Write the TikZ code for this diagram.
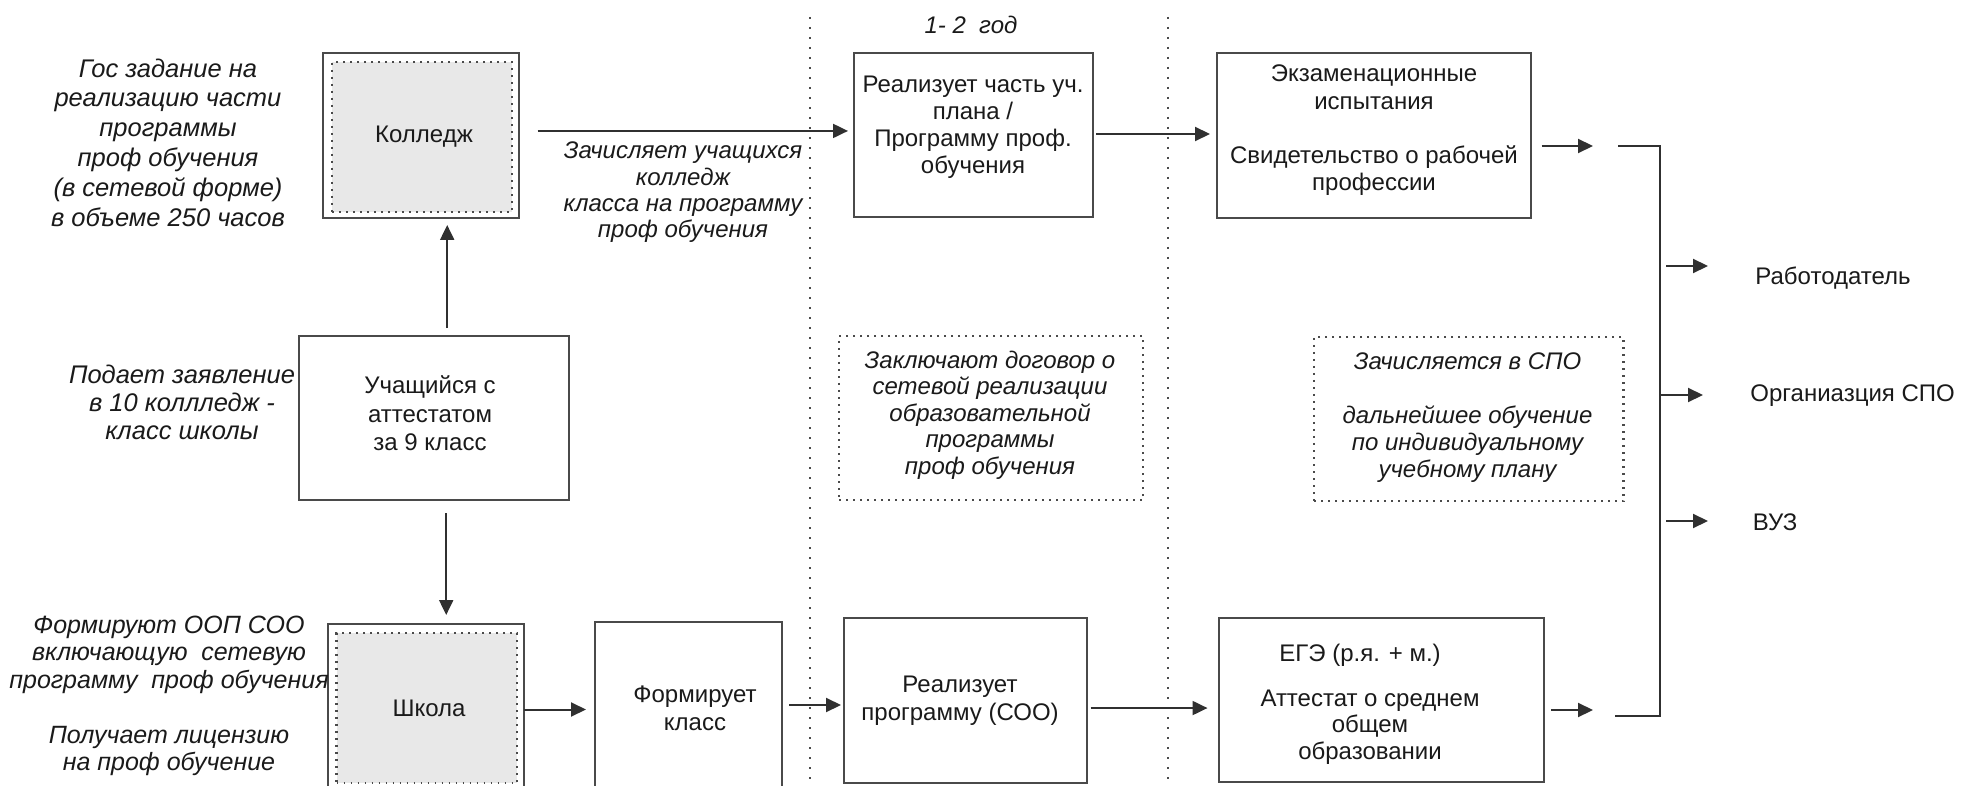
\documentclass[tikz,border=0pt]{standalone}
\usepackage{fontspec}
\setmainfont{Liberation Sans}
\usetikzlibrary{arrows.meta,fit,calc}
\definecolor{lc}{HTML}{303030}
\definecolor{bc}{HTML}{4A4A4A}
\definecolor{dc}{HTML}{4A4A4A}
\definecolor{gf}{HTML}{E8E8E8}
\definecolor{tc}{HTML}{1A1A1A}
\begin{document}
\begin{tikzpicture}[x=0.5pt,y=-0.5pt,
  box/.style={draw=bc, line width=1pt, inner sep=0pt, outer sep=0pt, fill=white},
  shadebox/.style={draw=dc, fill=gf, line width=1.1pt, dash pattern=on 0.9pt off 2.6pt, inner sep=0pt, outer sep=0pt},
  dotbox/.style={draw=dc, line width=1.1pt, dash pattern=on 0.9pt off 2.6pt, inner sep=0pt, outer sep=0pt},
  sepline/.style={draw=dc, line width=1pt, dash pattern=on 1.2pt off 3.8pt},
  arr/.style={draw=lc, line width=1pt, -{Triangle[length=7.5pt,width=7pt]}},
  ln/.style={draw=lc, line width=1pt},
  bt/.style={font=\fontsize{12}{14}\selectfont, text=tc, align=center, inner sep=0pt},
  it/.style={font=\fontsize{12.5}{15}\selectfont\itshape, text=tc, align=center, inner sep=0pt},
  mt/.style={font=\fontsize{12}{13.25}\selectfont\itshape, text=tc, align=center, inner sep=0pt},
]
\path[use as bounding box, clip] (0,0) rectangle (1964,786);
\fill[white] (0,0) rectangle (1964,786);

% separators
\coordinate (s1t) at (810,17);
\coordinate (s1b) at (810,790);
\coordinate (s2t) at (1168,17);
\coordinate (s2b) at (1168,790);
\draw[sepline] (s1t) -- (s1b);
\draw[sepline] (s2t) -- (s2b);

% boxes
\node[box, fit={(322.5,53) (519,218.5)}] (college) {};
\node[shadebox, fit={(332,62) (512,212)}] (collegeIn) {};
\node[box, fit={(853.5,53) (1093,217)}] (realize) {};
\node[box, fit={(1216.5,53) (1531,218)}] (exam) {};
\node[box, fit={(299,336) (569,500)}] (stud) {};
\node[dotbox, fit={(839,336) (1143,500)}] (contr) {};
\node[dotbox, fit={(1314,337) (1623.5,501)}] (spo) {};
\node[box, fit={(327.5,624) (524,795)}] (school) {};
\node[shadebox, fit={(336.5,633) (517,783)}] (schoolIn) {};
\node[box, fit={(595,622) (782,790)}] (form) {};
\node[box, fit={(844,618) (1087,782.5)}] (real2) {};
\node[box, fit={(1218.5,618) (1543.5,782)}] (ege) {};

% texts
\node[it, font=\fontsize{12.75}{14.9}\selectfont\itshape] (gosT) at (168,142.5) {Гос задание на\\реализацию части\\программы\\проф обучения\\(в сетевой форме)\\в объеме 250 часов};
\node[bt] (collegeT) at (424,137) {Колледж};
\node[mt, font=\fontsize{12}{13.15}\selectfont\itshape] (zachT) at (683,192.5) {Зачисляет учащихся\\колледж\\класса на программу\\проф обучения};
\node[mt] (godT) at (971,25) {1- 2\ \ год};
\node[bt, font=\fontsize{12}{13.5}\selectfont] (realizeT) at (973,127.5) {Реализует часть уч.\\плана /\\Программу проф.\\обучения};
\node[bt, font=\fontsize{12}{13.6}\selectfont] (examT) at (1374,130.5) {Экзаменационные\\испытания\\[13.6pt]Свидетельство о рабочей\\профессии};
\node[bt, anchor=west] (rabT) at (1755,278) {Работодатель};
\node[it, font=\fontsize{12.75}{14}\selectfont\itshape] (podT) at (182,402) {Подает заявление\\в 10 коллледж -\\класс школы};
\node[bt, font=\fontsize{12}{14.25}\selectfont] (studT) at (430,413.5) {Учащийся с\\аттестатом\\за 9 класс};
\node[mt, font=\fontsize{12}{13.25}\selectfont\itshape] (contrT) at (990,415) {Заключают договор о\\сетевой реализации\\образовательной\\программы\\проф обучения};
\node[mt, font=\fontsize{12}{13.5}\selectfont\itshape] (spoT) at (1467.5,418) {Зачисляется в СПО\\[13.5pt]дальнейшее обучение\\по индивидуальному\\учебному плану};
\node[bt, anchor=west] (orgT) at (1750,396) {Органиазция СПО};
\node[bt, anchor=west] (vuzT) at (1752.5,522) {ВУЗ};
\node[it, font=\fontsize{12.5}{13.75}\selectfont\itshape] (formirT) at (169,696) {Формируют ООП СОО\\включающую\ \ сетевую\\программу\ \ проф обучения\\[13.75pt]Получает лицензию\\на проф обучение};
\node[bt] (schoolT) at (429,708) {Школа};
\node[bt] (formT) at (695,708) {Формирует\\класс};
\node[bt] (real2T) at (960,701) {Реализует\\программу (СОО)};
\node[bt] (egeT1) at (1360,655) {ЕГЭ (р.я. + м.)};
\node[bt, font=\fontsize{12}{13.25}\selectfont] (egeT2) at (1370,727) {Аттестат о среднем\\общем\\образовании};

% arrows between boxes
\draw[arr, shorten <=4pt, shorten >=3.25pt] ([xshift=6.6pt]stud.north) -- ([xshift=6.6pt]stud.north |- college.south);
\draw[arr, shorten <=6.5pt, shorten >=4.5pt] ([xshift=6.1pt]stud.south) -- ([xshift=6.1pt]stud.south |- school.north);
\draw[arr, shorten <=9.25pt, shorten >=2.75pt] ([yshift=2.4pt]college.east) -- ([yshift=2.4pt]college.east -| realize.west);
\draw[arr, shorten <=1.5pt, shorten >=3.25pt] ([yshift=0.5pt]realize.east) -- ([yshift=0.5pt]realize.east -| exam.west);
\draw[arr, shorten >=4.5pt] (school.east) -- (school.east -| form.west);
\draw[arr, shorten <=3.5pt, shorten >=1.5pt] ([yshift=0.5pt]form.east) -- ([yshift=0.5pt]form.east -| real2.west);
\draw[arr, shorten <=1.75pt, shorten >=5.5pt] ([yshift=-3.9pt]real2.east) -- ([yshift=-3.9pt]real2.east -| ege.west);

% outputs and bracket
\coordinate (examOut) at (1593,146);
\coordinate (egeOut) at (1593,710);
\draw[arr] ([yshift=-5.25pt, xshift=5.25pt]exam.east) -- (examOut);
\draw[arr] ([yshift=-5pt, xshift=3.75pt]ege.east) -- (egeOut);
\coordinate (bTop) at (1618,146);
\coordinate (bC1) at (1660,146);
\coordinate (bC2) at (1660,716);
\coordinate (bBot) at (1615,716);
\draw[ln] (bTop) -- (bC1) -- (bC2) -- (bBot);
\coordinate (r1s) at (1666,266);
\coordinate (r1e) at (1708,266);
\coordinate (r2s) at (1660,395);
\coordinate (r2e) at (1703,395);
\coordinate (r3s) at (1666,521);
\coordinate (r3e) at (1708,521);
\draw[arr] (r1s) -- (r1e);
\draw[arr] (r2s) -- (r2e);
\draw[arr] (r3s) -- (r3e);
\end{tikzpicture}
\end{document}
